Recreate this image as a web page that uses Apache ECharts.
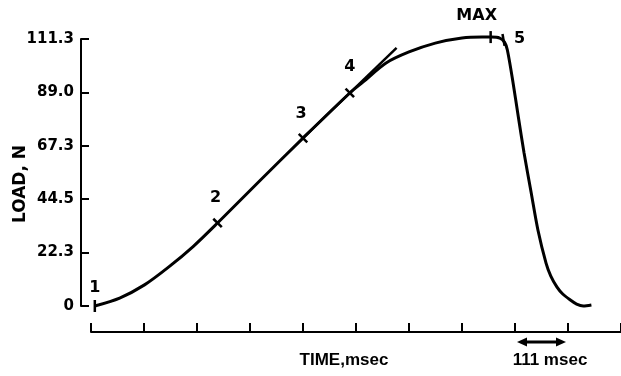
<!DOCTYPE html>
<html><head><meta charset="utf-8">
<script src="https://cdn.jsdelivr.net/npm/echarts@6/dist/echarts.min.js"></script>
<style>html,body{margin:0;padding:0;background:#fff}#c{width:621px;height:376px}</style>
</head><body><div id="c"></div>
<script>
// ---- data ----
const timeMs = [8,60,112,163,215,265,353,444,542,570,618,666,721,777,819,839,856,866,872,884,895,907,922,936,953,963,976,988,1004,1017,1031,1048];
const loadN  = [0,3.3,8.8,16.3,25.0,34.6,52.1,70.0,88.8,93.4,101.3,105.9,109.6,111.7,112.1,112.1,111.7,110.0,106.7,93.0,78.8,63.8,47.1,31.7,17.9,12.5,7.9,5.0,2.5,0.8,0,0.4];
const markerNames = ['1','2','3','4','MAX','5'];
const markerTimes = [8,265,444,542,837,864];
const markerLoads = [0,34.6,70.0,88.8,112.1,110.9];
const tangentTimes = [444,640];
const tangentLoads = [70.0,107.6];
const yTickLabels = ['0','22.3','44.5','67.3','89.0','111.3'];
const yStep = 22.26;
const yMax = 111.3;
const xStep = 111;
const xMax = 1110;
const arrowFrom = 888, arrowTo = 999;

// ---- styles ----
const markerRotate = [0,45,45,45,0,10];
const markerLabelOffset = [[0,-18],[-2,-25],[-2,-24],[0,-26],[-14,-21],[16,-1]];
const numFont = 'DejaVu Sans';
const txtFont = '"Liberation Sans", Arial, sans-serif';

const chart = echarts.init(document.getElementById('c'));
chart.setOption({
  animation: false,
  backgroundColor: '#fff',
  grid: { left: 91, top: 39, width: 537, height: 267 },
  xAxis: {
    type: 'value', min: 0, max: xMax, interval: xStep, offset: 26,
    axisLine: { onZero: false, lineStyle: { color: '#000', width: 2 } },
    axisTick: { inside: true, length: 9, lineStyle: { color: '#000', width: 2 } },
    axisLabel: { show: false }, splitLine: { show: false }
  },
  yAxis: {
    type: 'value', min: 0, max: yMax, interval: yStep, offset: 10,
    axisLine: { onZero: false, lineStyle: { color: '#000', width: 2 } },
    axisTick: { inside: true, length: 8, lineStyle: { color: '#000', width: 2 } },
    axisLabel: {
      margin: 7, color: '#000', fontFamily: numFont, fontWeight: 'bold', fontSize: 15,
      formatter: v => yTickLabels[Math.round(v / yStep)]
    },
    splitLine: { show: false }
  },
  series: [
    {
      type: 'line', data: timeMs.map((t, i) => [t, loadN[i]]),
      smooth: 0.3, showSymbol: false, clip: false,
      lineStyle: { color: '#000', width: 3 }
    },
    {
      type: 'line', data: tangentTimes.map((t, i) => [t, tangentLoads[i]]),
      showSymbol: false, clip: false,
      lineStyle: { color: '#000', width: 2.5 }
    },
    {
      type: 'scatter', clip: false, symbol: 'rect', symbolSize: [2.5, 12],
      itemStyle: { color: '#000', opacity: 1 },
      label: {
        show: true, position: 'inside', color: '#000',
        fontFamily: numFont, fontWeight: 'bold', fontSize: 16,
        formatter: p => p.name
      },
      data: markerTimes.map((t, i) => ({
        name: markerNames[i], value: [t, markerLoads[i]],
        symbolRotate: markerRotate[i],
        label: { offset: markerLabelOffset[i] }
      }))
    }
  ],
  graphic: [
    { type: 'text', id: 'yname', x: 21, y: 184, rotation: Math.PI / 2,
      style: { text: 'LOAD, N', font: 'bold 17px "DejaVu Sans"', fill: '#000', align: 'center', verticalAlign: 'middle', textAlign: 'center', textVerticalAlign: 'middle' } },
    { type: 'text', id: 'xname', x: 344, y: 360,
      style: { text: 'TIME,msec', font: 'bold 17px ' + txtFont, fill: '#000', align: 'center', verticalAlign: 'middle', textAlign: 'center', textVerticalAlign: 'middle' } },
    { type: 'text', id: 'scale', x: 550, y: 360,
      style: { text: '111 msec', font: 'bold 17px ' + txtFont, fill: '#000', align: 'center', verticalAlign: 'middle', textAlign: 'center', textVerticalAlign: 'middle' } }
  ]
});

// scale arrow under the axis, spanning one tick interval
const pa = chart.convertToPixel({ gridIndex: 0 }, [arrowFrom, 0]);
const pb = chart.convertToPixel({ gridIndex: 0 }, [arrowTo, 0]);
const ay = pa[1] + 36;
const x1 = pa[0] + 2, x2 = pb[0] - 2, hl = 10, hw = 4.5;
chart.setOption({
  graphic: [
    { type: 'line', id: 'arrLine', shape: { x1: x1 + hl - 2, y1: ay, x2: x2 - hl + 2, y2: ay }, style: { stroke: '#000', lineWidth: 3 } },
    { type: 'polygon', id: 'arrL', shape: { points: [[x1, ay], [x1 + hl, ay - hw], [x1 + hl, ay + hw]] }, style: { fill: '#000' } },
    { type: 'polygon', id: 'arrR', shape: { points: [[x2, ay], [x2 - hl, ay - hw], [x2 - hl, ay + hw]] }, style: { fill: '#000' } }
  ]
});
</script>
</body></html>
